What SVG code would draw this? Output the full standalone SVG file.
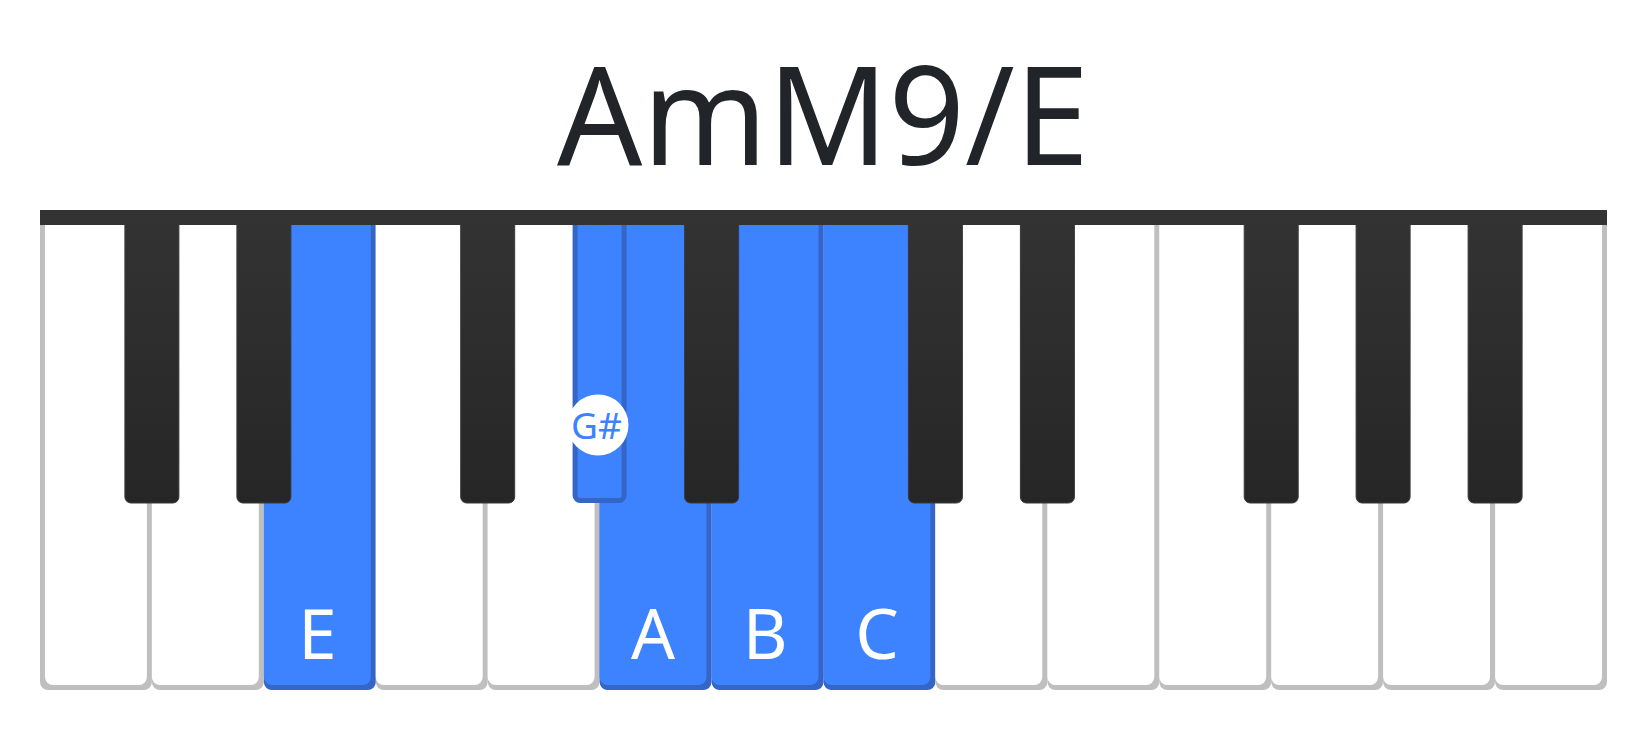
<svg xmlns="http://www.w3.org/2000/svg" width="1650" height="740" viewBox="0 0 1650 740">
  <defs>
    <linearGradient id="blk" x1="0" y1="0" x2="0" y2="1">
      <stop offset="0" stop-color="#333333"/>
      <stop offset="1" stop-color="#262626"/>
    </linearGradient>
    <style>
      .wsh { fill: #bfbfbf; }
      .wfr { fill: #ffffff; }
      .bsh { fill: #3566c6; }
      .bfr { fill: #3d82fe; }
      .blk { fill: url(#blk); stroke: #3a3a3a; stroke-width: 1; }
      .bblk { fill: #3d82fe; stroke: #3566c6; stroke-width: 5; }
      .lbl { font-family: "Noto Sans", "Open Sans", sans-serif; font-size: 69px; fill: #ffffff; text-anchor: middle; }
      .title { font-family: "Noto Sans", "Open Sans", sans-serif; font-size: 137px; fill: #212529; text-anchor: middle; }
    </style>
  </defs>
  <rect width="1650" height="740" fill="#ffffff"/>

  <g id="title">
    <text class="title" x="823" y="165" textLength="532" lengthAdjust="spacingAndGlyphs">AmM9/E</text>
  </g>

  <g id="white-keys">
    <g id="key-C1"><rect class="wsh" x="40" y="215" width="111.9" height="475" rx="8"/><rect class="wfr" x="45" y="215" width="101.9" height="470" rx="8"/></g>
    <g id="key-D1"><rect class="wsh" x="151.9" y="215" width="111.9" height="475" rx="8"/><rect class="wfr" x="151.9" y="215" width="106.9" height="470" rx="8"/></g>
    <g id="key-E1"><rect class="bsh" x="263.9" y="215" width="111.9" height="475" rx="8"/><rect class="bfr" x="263.9" y="215" width="106.9" height="470" rx="8"/></g>
    <g id="key-F1"><rect class="wsh" x="375.8" y="215" width="111.9" height="475" rx="8"/><rect class="wfr" x="375.8" y="215" width="106.9" height="470" rx="8"/></g>
    <g id="key-G1"><rect class="wsh" x="487.7" y="215" width="111.9" height="475" rx="8"/><rect class="wfr" x="487.7" y="215" width="106.9" height="470" rx="8"/></g>
    <g id="key-A1"><rect class="bsh" x="599.6" y="215" width="111.9" height="475" rx="8"/><rect class="bfr" x="599.6" y="215" width="106.9" height="470" rx="8"/></g>
    <g id="key-B1"><rect class="bsh" x="711.6" y="215" width="111.9" height="475" rx="8"/><rect class="bfr" x="711.6" y="215" width="106.9" height="470" rx="8"/></g>
    <g id="key-C2"><rect class="bsh" x="823.5" y="215" width="111.9" height="475" rx="8"/><rect class="bfr" x="823.5" y="215" width="106.9" height="470" rx="8"/></g>
    <g id="key-D2"><rect class="wsh" x="935.4" y="215" width="111.9" height="475" rx="8"/><rect class="wfr" x="935.4" y="215" width="106.9" height="470" rx="8"/></g>
    <g id="key-E2"><rect class="wsh" x="1047.4" y="215" width="111.9" height="475" rx="8"/><rect class="wfr" x="1047.4" y="215" width="106.9" height="470" rx="8"/></g>
    <g id="key-F2"><rect class="wsh" x="1159.3" y="215" width="111.9" height="475" rx="8"/><rect class="wfr" x="1159.3" y="215" width="106.9" height="470" rx="8"/></g>
    <g id="key-G2"><rect class="wsh" x="1271.2" y="215" width="111.9" height="475" rx="8"/><rect class="wfr" x="1271.2" y="215" width="106.9" height="470" rx="8"/></g>
    <g id="key-A2"><rect class="wsh" x="1383.1" y="215" width="111.9" height="475" rx="8"/><rect class="wfr" x="1383.1" y="215" width="106.9" height="470" rx="8"/></g>
    <g id="key-B2"><rect class="wsh" x="1495.1" y="215" width="111.9" height="475" rx="8"/><rect class="wfr" x="1495.1" y="215" width="106.9" height="470" rx="8"/></g>
  </g>

  <g id="white-labels">
    <text class="lbl" x="317.4" y="659">E</text>
    <text class="lbl" x="653.1" y="659">A</text>
    <text class="lbl" x="765.1" y="659">B</text>
    <text class="lbl" x="877" y="659">C</text>
  </g>

  <g id="black-keys">
    <rect id="key-Cs1" class="blk" x="124.9" y="212" width="54" height="291" rx="6"/>
    <rect id="key-Ds1" class="blk" x="236.9" y="212" width="54" height="291" rx="6"/>
    <rect id="key-Fs1" class="blk" x="460.7" y="212" width="54" height="291" rx="6"/>
    <g id="key-Gs1">
      <rect class="bblk" x="575.1" y="214.5" width="49" height="286" rx="5"/>
      <circle cx="598" cy="425" r="30.5" fill="#ffffff"/>
      <text x="596.5" y="438.5" font-family="Noto Sans, Open Sans, sans-serif" font-size="37" fill="#3d82fe" text-anchor="middle">G#</text>
    </g>
    <rect id="key-As1" class="blk" x="684.6" y="212" width="54" height="291" rx="6"/>
    <rect id="key-Cs2" class="blk" x="908.4" y="212" width="54" height="291" rx="6"/>
    <rect id="key-Ds2" class="blk" x="1020.4" y="212" width="54" height="291" rx="6"/>
    <rect id="key-Fs2" class="blk" x="1244.2" y="212" width="54" height="291" rx="6"/>
    <rect id="key-Gs2" class="blk" x="1356.1" y="212" width="54" height="291" rx="6"/>
    <rect id="key-As2" class="blk" x="1468.1" y="212" width="54" height="291" rx="6"/>
  </g>

  <g id="top-bar">
    <rect x="40" y="210" width="1567" height="15" fill="#333333"/>
  </g>
</svg>
